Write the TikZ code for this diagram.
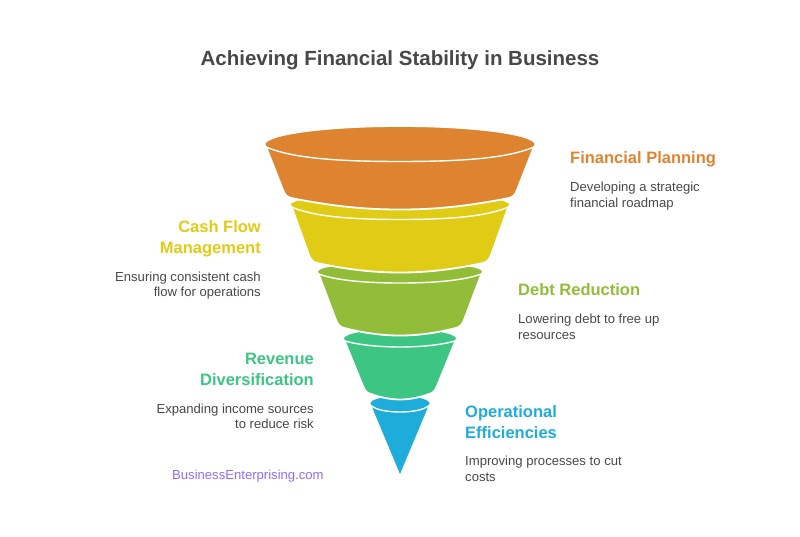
\documentclass[tikz,border=0pt]{standalone}
\usepackage{fontspec}
\setmainfont{Liberation Sans}
\usetikzlibrary{positioning}
\definecolor{bandorange}{HTML}{DE8431}
\definecolor{bandyellow}{HTML}{E0CB15}
\definecolor{bandgreen}{HTML}{92BD39}
\definecolor{bandteal}{HTML}{3CC583}
\definecolor{bandblue}{HTML}{1EACDB}
\definecolor{textgrey}{HTML}{484848}
\definecolor{sitepurple}{HTML}{8F6CFF}
\tikzset{
  headtext/.style={font=\fontsize{16.5}{21}\selectfont\bfseries, inner sep=0pt},
  bodytext/.style={font=\fontsize{13.1}{15.5}\selectfont, text=textgrey, inner sep=0pt},
  bandedge/.style={draw=white, line width=1.8pt, line join=round},
  capline/.style={draw=white, line width=1.4pt},
}

\begin{document}
\begin{tikzpicture}[x=1pt,y=-1pt]
\useasboundingbox (0,0) rectangle (800,537);

% tip of the funnel
\fill[bandblue] (370.5,403.5) .. controls (371,399) and (385,396) .. (400,396)
   .. controls (415,396) and (429,399) .. (429.5,403.5)
   .. controls (429.5,405) and (429,406) .. (428,407)
   -- (400,474) -- (372,407) .. controls (371,406) and (370.5,405) .. (370.5,403.5) -- cycle;
\draw[capline] (371,405.5) .. controls (376,410) and (388,412) .. (400,412)
   .. controls (412,412) and (424,410) .. (429,405.5);

% bands, from the lowest one up
\foreach \bandcolor/\rx/\ty/\ry/\wy/\bx/\by/\bb in {
  bandteal/57/338/10/347/34/393/399.5,
  bandgreen/83/271/10/283/61/327/335.5,
  bandyellow/110/204/12/219.5/88/262/272.5,
  bandorange/135.5/144/18/161.5/114/197/209.5}{
  \path[fill=\bandcolor,bandedge] (400-\rx,\ty)
     .. controls (400-\rx+1,\ty-0.55*\ry) and (400-0.55*\rx,\ty-\ry) .. (400,\ty-\ry)
     .. controls (400+0.55*\rx,\ty-\ry) and (400+\rx-1,\ty-0.55*\ry) .. (400+\rx,\ty)
     .. controls (400+\rx,\ty+1.5) and (400+\rx-1,\ty+3) .. (400+\rx-2,\ty+4)
     -- (400+\bx+3,\by-7)
     .. controls (400+\bx+1,\by-2) and (400+\bx-1,\by) .. (400+\bx-5,\by+1)
     .. controls (400+0.5*\bx,\bb-1) and (400+0.2*\bx,\bb) .. (400,\bb)
     .. controls (400-0.2*\bx,\bb) and (400-0.5*\bx,\bb-1) .. (400-\bx+5,\by+1)
     .. controls (400-\bx+1,\by) and (400-\bx-1,\by-2) .. (400-\bx-3,\by-7)
     -- (400-\rx+2,\ty+4)
     .. controls (400-\rx+1,\ty+3) and (400-\rx,\ty+1.5) .. (400-\rx,\ty)
     -- cycle;
  \draw[capline] (400-\rx+0.5,\ty+2.5)
     .. controls (400-0.8*\rx,\wy-3) and (400-0.45*\rx,\wy) .. (400,\wy)
     .. controls (400+0.45*\rx,\wy) and (400+0.8*\rx,\wy-3) .. (400+\rx-0.5,\ty+2.5);
}

\node[font=\fontsize{20.5}{26}\selectfont\bfseries, text=textgrey, inner sep=0pt] (title) at (400,60) {Achieving Financial Stability in Business};

\node[headtext, text=bandorange, anchor=west] (planninghead) at (570,159.5) {Financial Planning};
\node[bodytext, align=left, anchor=west] (planningtext) at (570,196) {Developing a strategic\\financial roadmap};

\node[headtext, text=bandyellow, anchor=east, align=right] (cashhead) at (261,239) {Cash Flow\\Management};
\node[bodytext, align=right, anchor=east] (cashtext) at (261,285.5) {Ensuring consistent cash\\flow for operations};

\node[headtext, text=bandgreen, anchor=west] (debthead) at (518,290) {Debt Reduction};
\node[bodytext, align=left, anchor=west] (debttext) at (518,327) {Lowering debt to free up\\resources};

\node[headtext, text=bandteal, anchor=east, align=right] (revenuehead) at (314,369) {Revenue\\Diversification};
\node[bodytext, align=right, anchor=east] (revenuetext) at (314,416.5) {Expanding income sources\\to reduce risk};

\node[headtext, text=bandblue, anchor=west, align=left] (efficiencyhead) at (465,422) {Operational\\Efficiencies};
\node[bodytext, align=left, anchor=west] (efficiencytext) at (465,469) {Improving processes to cut\\costs};

\node[font=\fontsize{13.1}{15}\selectfont, text=sitepurple, inner sep=0pt, anchor=west] (site) at (172,476) {BusinessEnterprising.com};
\end{tikzpicture}
\end{document}
